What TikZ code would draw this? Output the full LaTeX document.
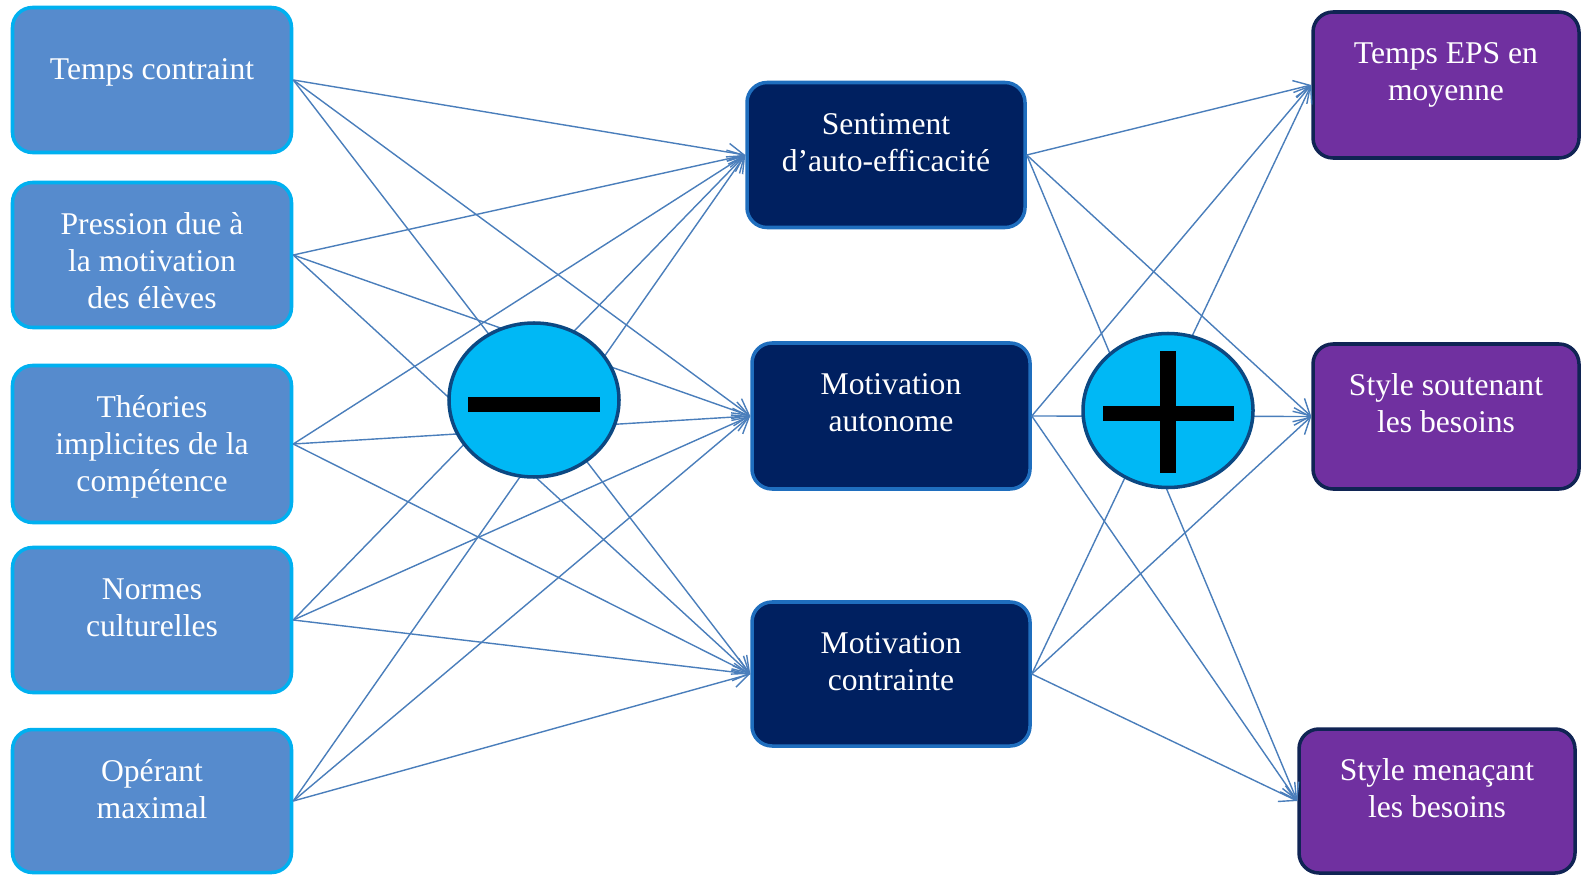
\documentclass[tikz,border=0pt]{standalone}
\usepackage{fontspec}
\setmainfont{Liberation Serif}
\usetikzlibrary{arrows.meta,shapes.geometric}

\definecolor{bleuclair}{RGB}{86,139,205}
\definecolor{cyanbord}{RGB}{0,176,240}
\definecolor{marine}{RGB}{0,32,96}
\definecolor{bleubord}{RGB}{31,110,190}
\definecolor{violetbox}{RGB}{112,48,160}
\definecolor{navybord}{RGB}{16,36,84}
\definecolor{rondc}{RGB}{0,184,245}
\definecolor{rondbord}{RGB}{12,72,130}
\definecolor{fleche}{RGB}{74,126,187}

% texte colle en haut de la boite
\newcommand{\boxtxt}[3][0pt]{\begin{minipage}[c][#2][t]{5cm}\centering\rule{0pt}{\dimexpr 29.5pt+#1\relax}#3\end{minipage}}

\tikzset{
    boite/.style={rounded corners=0.4cm, inner sep=0pt, text=white, font=\fontsize{18}{21}\selectfont, line width=2pt},
    gauche/.style={boite, fill=bleuclair, draw=cyanbord, minimum width=5.58cm},
    milieu/.style={boite, fill=marine, draw=bleubord, minimum width=5.56cm},
    droite/.style={boite, fill=violetbox, draw=navybord, minimum width=5.32cm},
    lien/.style={draw=fleche, line width=0.8pt, -{Straight Barb[length=9pt,width=10pt]}},
    rond/.style={ellipse, fill=rondc, draw=rondbord, line width=2pt, minimum width=3.4cm, minimum height=3.08cm, inner sep=0pt}
}

\begin{document}
\begin{tikzpicture}
    \useasboundingbox (0,0) rectangle (31.62,-17.5);

    % Facteurs
    \node[gauche] (tc) at (3.04,-1.6) {\boxtxt[0.4cm]{2.9cm}{Temps contraint}};
    \node[gauche] (pm) at (3.04,-5.1) {\boxtxt{2.9cm}{Pression due à\\la motivation\\des élèves}};
    \node[gauche] (ti) at (3.04,-8.88) {\boxtxt{3.14cm}{Théories\\implicites de la\\compétence}};
    \node[gauche] (nc) at (3.04,-12.4) {\boxtxt{2.9cm}{Normes\\culturelles}};
    \node[gauche] (op) at (3.04,-16.02) {\boxtxt{2.86cm}{Opérant\\maximal}};

    % Motivation
    \node[milieu] (sa) at (17.72,-3.1) {\boxtxt{2.9cm}{Sentiment\\d’auto-efficacité}};
    \node[milieu] (ma) at (17.82,-8.32) {\boxtxt{2.92cm}{Motivation\\autonome}};
    \node[milieu] (mc) at (17.82,-13.48) {\boxtxt{2.88cm}{Motivation\\contrainte}};

    % Consequences
    \node[droite] (te) at (28.92,-1.7) {\boxtxt{2.92cm}{Temps EPS en\\moyenne}};
    \node[droite] (ss) at (28.92,-8.33) {\boxtxt{2.9cm}{Style soutenant\\les besoins}};
    \node[droite, minimum width=5.52cm] (sm) at (28.74,-16.02) {\boxtxt{2.88cm}{Style menaçant\\les besoins}};

    % Liens
    \foreach \a in {tc,pm,ti,nc,op}
        \foreach \b in {sa,ma,mc}
            \draw[lien] (\a.east) -- (\b.west);
    \foreach \a in {sa,ma,mc}
        \foreach \b in {te,ss,sm}
            \draw[lien] (\a.east) -- (\b.west);

    % Signe moins
    \node[rond] (moins) at (10.68,-8.0) {};
    \fill (moins.center) ++(-1.32,-0.24) rectangle ++(2.64,0.3);

    % Signe plus
    \node[rond] (plus) at (23.36,-8.21) {};
    \fill (plus.center) ++(-1.31,-0.21) rectangle ++(2.63,0.3);
    \fill (plus.center) ++(-0.16,-1.25) rectangle ++(0.32,2.44);
\end{tikzpicture}
\end{document}
